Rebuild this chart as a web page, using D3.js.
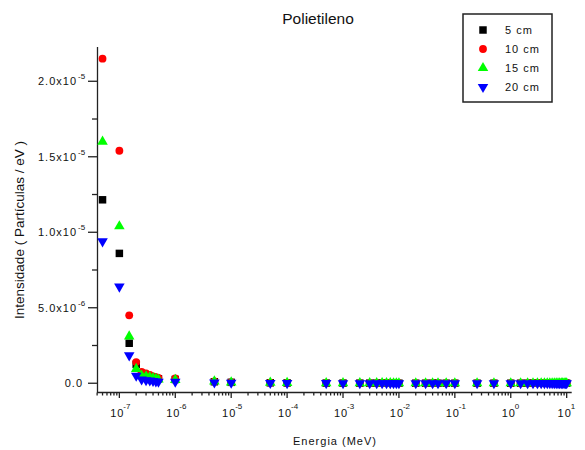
<!DOCTYPE html>
<html><head><meta charset="utf-8">
<script src="https://cdn.jsdelivr.net/npm/d3@7"></script>
<style>body{margin:0;background:#fff}svg{display:block}text{font-family:"Liberation Sans",Arial,sans-serif;fill:#111}</style>
</head><body><svg id="c" width="585" height="450"></svg>
<script>
const energy = [5e-8,1e-7,1.5e-7,2e-7,2.5e-7,3e-7,3.5e-7,4e-7,4.5e-7,5e-7,1e-6,5e-6,1e-5,5e-5,1e-4,5e-4,1e-3,
  2e-3,3e-3,4e-3,5e-3,6e-3,7e-3,8e-3,9e-3,1e-2,2e-2,3e-2,4e-2,5e-2,7e-2,1e-1,0.25,0.5,1,
  1.5,2,2.5,3,3.5,4,4.5,5,5.5,6,6.5,7,7.5,8,8.5,9,9.5,10];
const s5  = [1.215e-5,8.6e-6,2.65e-6,1.25e-6,6.5e-7,5.5e-7,4.5e-7,4e-7,3.5e-7,3e-7,2.5e-7,1e-7,6e-8,3e-8,2e-8,1e-8,8e-9,
  6e-9,5e-9,4e-9,4e-9,3e-9,3e-9,2e-9,2e-9,2e-9,1.5e-9,1.2e-9,1e-9,1e-9,8e-10,7e-10,5e-10,4e-10,3e-10,
  3e-10,2e-10,2e-10,2e-10,2e-10,1e-10,1e-10,1e-10,1e-10,1e-10,1e-10,1e-10,1e-10,1e-10,1e-10,1e-10,1e-10,1e-10];
const s10 = [2.15e-5,1.54e-5,4.5e-6,1.4e-6,7.5e-7,6.5e-7,5.5e-7,4.5e-7,4e-7,3.5e-7,3.2e-7,1.2e-7,7e-8,4e-8,2e-8,1e-8,8e-9,
  6e-9,5e-9,4e-9,4e-9,3e-9,3e-9,2e-9,2e-9,2e-9,1.5e-9,1.2e-9,1e-9,1e-9,8e-10,7e-10,5e-10,4e-10,3e-10,
  3e-10,2e-10,2e-10,2e-10,2e-10,1e-10,1e-10,1e-10,1e-10,1e-10,1e-10,1e-10,1e-10,1e-10,1e-10,1e-10,1e-10,1e-10];
const s15 = [1.6e-5,1.04e-5,3.1e-6,9.5e-7,5e-7,4.5e-7,4e-7,3.5e-7,3e-7,2.5e-7,2.2e-7,1.2e-7,6e-8,4e-8,2e-8,1e-8,8e-9,
  6e-9,5e-9,4e-9,4e-9,3e-9,3e-9,2e-9,2e-9,2e-9,1.5e-9,1.2e-9,1e-9,1e-9,8e-10,7e-10,5e-10,4e-10,3e-10,
  3e-10,2e-10,2e-10,2e-10,2e-10,1e-10,1e-10,1e-10,1e-10,1e-10,1e-10,1e-10,1e-10,1e-10,1e-10,1e-10,1e-10,1e-10];
const s20 = [9.4e-6,6.4e-6,1.85e-6,5e-7,2.5e-7,2e-7,1.8e-7,1.5e-7,1.2e-7,1e-7,1e-7,5e-8,3e-8,2e-8,1e-8,6e-9,4e-9,
  3e-9,3e-9,2e-9,2e-9,2e-9,1e-9,1e-9,1e-9,1e-9,8e-10,6e-10,5e-10,5e-10,4e-10,3e-10,2e-10,2e-10,1e-10,
  1e-10,1e-10,1e-10,1e-10,1e-10,1e-10,1e-10,1e-10,1e-10,1e-10,1e-10,1e-10,1e-10,1e-10,1e-10,1e-10,1e-10,1e-10];
const seriesNames = ["5 cm","10 cm","15 cm","20 cm"];
const seriesColors = ["#000000","#ff0000","#00ff00","#0000ff"];
const yTicks = [0,5e-6,1e-5,1.5e-5,2e-5];
const yTickMant = ["0.0","5.0","1.0","1.5","2.0"];
const yTickExp = ["","-6","-5","-5","-5"];
const xDecades = [-7,-6,-5,-4,-3,-2,-1,0,1];

const svg = d3.select("#c");
const x = d3.scaleLog().domain([Math.pow(10,-7.4), Math.pow(10,1.09)]).range([97, 571.7]);
const y = d3.scaleLinear().domain([-5.8e-7, 2.227e-5]).range([392, 47]);

// title
svg.append("text").attr("x",318).attr("y",24).attr("text-anchor","middle").style("font-size","15.5px").text("Polietileno");

// axes lines
const ax = svg.append("g").attr("stroke","#222").attr("stroke-width",1.3);
ax.append("line").attr("x1",97.5).attr("x2",97.5).attr("y1",47).attr("y2",392.5);
ax.append("line").attr("x1",97).attr("x2",571.7).attr("y1",392.5).attr("y2",392.5);

// y ticks
const yMinor = d3.range(0, 2.3e-5, 2.5e-6);
yMinor.forEach(v=>{
  if (y(v) < 47) return;
  const major = yTicks.some(t=>Math.abs(t-v)<1e-9);
  ax.append("line").attr("x1",97.5).attr("x2",major?88:92).attr("y1",y(v)).attr("y2",y(v));
});
yTicks.forEach((t,i)=>{
  const tx = svg.append("text").attr("x", yTickExp[i] ? 77 : 83).attr("y", y(t)+4)
    .attr("text-anchor","end").style("font-size","11px").style("letter-spacing","1px");
  tx.text(yTickMant[i] + (yTickExp[i] ? "x10" : ""));
  if (yTickExp[i]) {
    svg.append("text").attr("x",78).attr("y",y(t)-2).style("font-size","8px").text(yTickExp[i]);
  }
});

// x ticks
const [d0,d1] = x.domain();
for (let e=-8; e<=1; e++) {
  for (let m=1; m<=9; m++) {
    const v = m*Math.pow(10,e);
    if (v < d0 || v > d1) continue;
    ax.append("line").attr("x1",x(v)).attr("x2",x(v)).attr("y1",392.5).attr("y2", m===1?398:395.5);
  }
}
xDecades.forEach(d=>{
  const px = x(Math.pow(10,d));
  const g = svg.append("text").attr("x",px-2).attr("y",417).attr("text-anchor","middle").style("font-size","11px").style("letter-spacing","1px");
  g.text("10");
  svg.append("text").attr("x",px+4).attr("y",409).style("font-size","8px").text(String(d));
});

// axis labels
svg.append("text").attr("x",335).attr("y",445).attr("text-anchor","middle").style("font-size","11px").style("letter-spacing","1px").text("Energia (MeV)");
svg.append("text").attr("transform","translate(24,230) rotate(-90)").attr("text-anchor","middle").style("font-size","13.5px").text("Intensidade ( Partículas / eV )");

// markers
const symbols = [
  d3.symbol().type(d3.symbolSquare).size(56)(),
  d3.symbol().type(d3.symbolCircle).size(48)(),
  d3.symbol().type(d3.symbolTriangle).size(48)(),
  d3.symbol().type(d3.symbolTriangle).size(48)()
];
const rotations = [0,0,0,180];
const allSeries = [s5,s10,s15,s20];
allSeries.forEach((s,si)=>{
  svg.append("g").selectAll("path").data(s).join("path")
    .attr("d", symbols[si])
    .attr("transform",(v,i)=>`translate(${x(energy[i])},${y(v)}) rotate(${rotations[si]})`)
    .attr("fill", seriesColors[si]);
});

// legend
const lg = svg.append("g");
lg.append("rect").attr("x",463).attr("y",14).attr("width",89).attr("height",88).attr("fill","#fff").attr("stroke","#222").attr("stroke-width",1.5);
const rowsY = [30,49,68,87];
seriesNames.forEach((n,i)=>{
  lg.append("path").attr("d",symbols[i]).attr("transform",`translate(483,${rowsY[i]}) rotate(${rotations[i]})`).attr("fill",seriesColors[i]);
  lg.append("text").attr("x",505).attr("y",rowsY[i]+4).style("font-size","11px").style("letter-spacing","1px").text(n);
});
</script></body></html>
